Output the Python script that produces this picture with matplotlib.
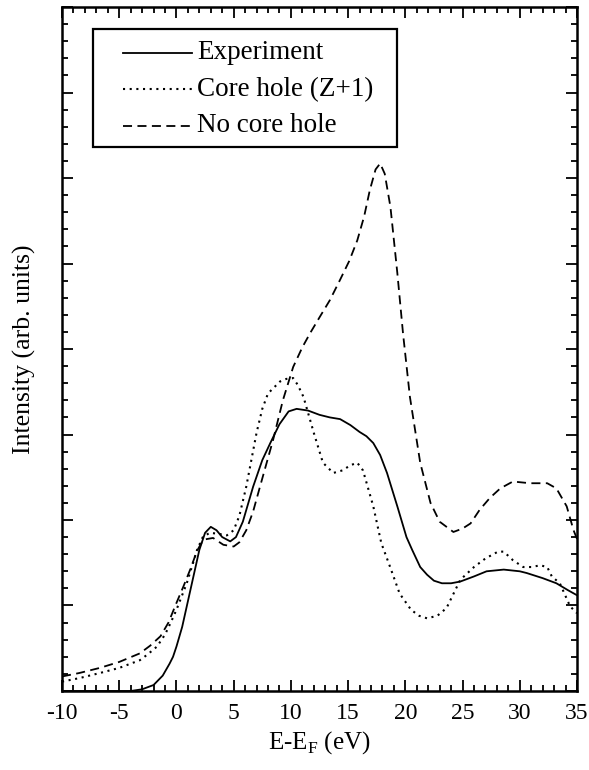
#!/usr/bin/env python3
"""Absorption spectrum: experiment vs. core-hole / no-core-hole calculations."""

import matplotlib

matplotlib.use("Agg")
import matplotlib.pyplot as plt
from matplotlib.patches import Rectangle
from matplotlib.ticker import MultipleLocator

# E - E_F (eV) and intensity (arb. units)
exp_x = [-10.0, -4.0, -3.0, -2.0, -1.2, -0.6, -0.3, 0.0, 0.5, 1.0, 1.35, 2.0, 2.5, 3.0,
         3.5, 4.0, 4.7, 5.2, 5.8, 6.7, 7.5, 8.2, 9.0, 9.8, 10.5, 11.5, 12.5, 13.4, 14.3,
         15.2, 16.0, 16.6, 17.2, 17.8, 18.4, 19.3, 20.1, 20.6, 21.3, 21.9, 22.5, 23.2,
         24.0, 24.8, 26.0, 27.1, 28.6, 30.0, 30.6, 32.0, 33.2, 34.2, 35.0]
exp_y = [0.0, 0.0, 0.02, 0.07, 0.18, 0.32, 0.40, 0.52, 0.75, 1.05, 1.26, 1.65, 1.85, 1.92,
         1.88, 1.80, 1.75, 1.80, 1.98, 2.39, 2.70, 2.90, 3.12, 3.27, 3.30, 3.28, 3.23, 3.20,
         3.18, 3.11, 3.03, 2.98, 2.90, 2.76, 2.55, 2.16, 1.80, 1.65, 1.45, 1.36, 1.29, 1.26,
         1.26, 1.28, 1.34, 1.40, 1.42, 1.40, 1.38, 1.32, 1.26, 1.18, 1.12]

core_x = [-10.0, -8.5, -6.7, -5.0, -3.2, -2.5, -1.7, -1.0, -0.5, 0.0, 0.9, 1.8, 2.3, 2.9,
          3.6, 4.4, 5.0, 5.5, 6.1, 7.0, 7.5, 8.0, 9.05, 9.6, 10.2, 10.6, 11.1, 12.0, 12.8,
          13.7, 14.5, 15.2, 15.8, 16.3, 17.2, 17.9, 18.7, 19.5, 20.5, 21.2, 21.9, 22.8,
          23.6, 24.8, 26.0, 27.0, 28.1, 28.6, 29.4, 30.3, 31.0, 31.8, 32.4, 32.8, 33.5,
          34.4, 35.0]
core_y = [0.11, 0.15, 0.21, 0.27, 0.36, 0.43, 0.52, 0.66, 0.80, 0.95, 1.26, 1.65, 1.80, 1.85,
          1.84, 1.82, 1.88, 2.05, 2.39, 3.02, 3.30, 3.48, 3.62, 3.65, 3.66, 3.58, 3.44, 3.02,
          2.67, 2.55, 2.58, 2.64, 2.67, 2.58, 2.16, 1.73, 1.44, 1.14, 0.95, 0.88, 0.85, 0.88,
          0.97, 1.30, 1.45, 1.55, 1.63, 1.63, 1.53, 1.45, 1.45, 1.47, 1.45, 1.34, 1.26,
          0.99, 0.91]

nocore_x = [-10.0, -8.5, -6.7, -5.0, -3.2, -2.3, -1.4, -0.7, 0.0, 0.6, 1.2, 1.8, 2.35, 3.2,
            4.1, 5.0, 5.5, 6.1, 6.7, 7.3, 8.45, 9.3, 10.2, 11.0, 11.7, 12.5, 13.4, 14.3,
            15.1, 15.8, 16.4, 16.9, 17.4, 17.8, 18.2, 18.7, 19.3, 19.8, 20.4, 21.3, 22.2,
            23.0, 24.2, 25.0, 25.7, 26.5, 27.4, 28.3, 29.4, 30.9, 32.4, 33.2, 34.1, 34.7,
            35.0]
nocore_y = [0.17, 0.21, 0.27, 0.34, 0.44, 0.53, 0.64, 0.80, 1.03, 1.22, 1.42, 1.64, 1.77,
            1.79, 1.71, 1.69, 1.74, 1.88, 2.10, 2.39, 2.94, 3.40, 3.79, 4.02, 4.19, 4.37,
            4.57, 4.81, 5.03, 5.27, 5.55, 5.86, 6.10, 6.17, 6.05, 5.66, 4.89, 4.18, 3.44,
            2.67, 2.20, 1.98, 1.86, 1.90, 1.96, 2.12, 2.26, 2.37, 2.45, 2.43, 2.43, 2.37,
            2.16, 1.88, 1.78]

labels = ["Experiment", "Core hole (Z+1)", "No core hole"]

plt.rcParams["font.family"] = ["Liberation Serif", "DejaVu Serif"]
plt.rcParams["axes.unicode_minus"] = False

STYLES = [
    dict(linestyle="-", linewidth=1.3),
    dict(linestyle=(0, (1.0, 2.2)), linewidth=1.5),
    dict(linestyle=(0, (5.0, 3.0)), linewidth=1.3),
]

fig = plt.figure(figsize=(5.89, 7.70), dpi=100)
ax = fig.add_axes([0.1053, 0.1026, 0.8743, 0.8883])

for (xs, ys), style in zip([(exp_x, exp_y), (core_x, core_y), (nocore_x, nocore_y)], STYLES):
    ax.plot(xs, ys, color="black", **style)

ax.set_xlim(-10, 35)
ax.set_ylim(0, 8)
ax.xaxis.set_major_locator(MultipleLocator(5))
ax.xaxis.set_minor_locator(MultipleLocator(1))
ax.yaxis.set_major_locator(MultipleLocator(1))
ax.yaxis.set_minor_locator(MultipleLocator(0.2))
ax.tick_params(which="both", direction="in", top=True, right=True, width=1.3,
               labelsize=17, labelleft=False, pad=9)
ax.tick_params(which="major", length=8)
ax.tick_params(which="minor", length=4.5)
for spine in ax.spines.values():
    spine.set_linewidth(1.8)

ax.set_xlabel("E-E$_\\mathregular{F}$ (eV)", fontsize=18, labelpad=3)
ax.set_ylabel("Intensity (arb. units)", fontsize=18.5, labelpad=19)

# legend box drawn by hand so the padding matches the original
ax.add_patch(Rectangle((0.0602, 0.7953), 0.5903, 0.1725, transform=ax.transAxes,
                       fill=False, edgecolor="black", linewidth=1.6, zorder=5))
for row, (label, style) in enumerate(zip(labels, STYLES)):
    y = 0.9330 - row * 0.0534
    ax.plot([0.1184, 0.2524], [y, y], transform=ax.transAxes, color="black", **style)
    ax.text(0.2625, y, label, transform=ax.transAxes, fontsize=19.5, va="center", ha="left")

fig.savefig("out.png", dpi=100)
